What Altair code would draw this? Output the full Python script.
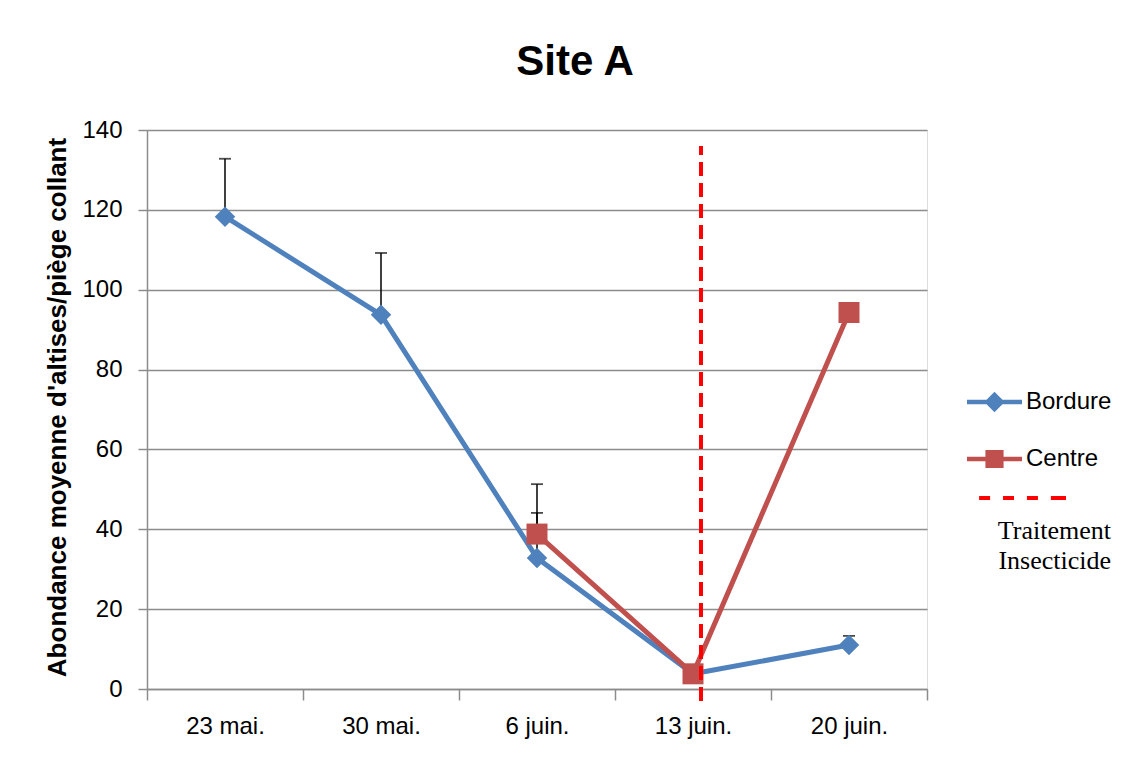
import altair as alt
import pandas as pd

# ---- data ----
dates = ["23 mai.", "30 mai.", "6 juin.", "13 juin.", "20 juin."]
bordure = [118.3, 93.7, 32.8, 3.8, 11.0]
bordure_upper = [132.8, 109.2, 44.1, None, 13.3]
centre = [None, None, 38.8, 3.8, 94.3]
centre_upper = [None, None, 51.3, None, None]
y_ticks = [0, 20, 40, 60, 80, 100, 120, 140]
treatment_date = "13 juin."
treatment_low = -3
treatment_high = 136
series_names = ["Bordure", "Centre", "Traitement"]
legend_title = ["Traitement", "Insecticide"]

BLUE = "#4F81BD"
RED = "#C0504D"
TREAT = "#FF0000"
GRID = "#8C8C8C"
FONT = "Liberation Sans"

# legend symbols (line + marker), unit = half of sqrt(size)
P_B = ("M-1,-0.08 L1,-0.08 L1,0.08 L-1,0.08 Z "
       "M0,-0.37 L0.37,0 L0,0.37 L-0.37,0 Z")
P_C = ("M-1,-0.08 L1,-0.08 L1,0.08 L-1,0.08 Z "
       "M-0.33,-0.33 L0.33,-0.33 L0.33,0.33 L-0.33,0.33 Z")
P_T = ("M-0.56,-0.73 L-0.16,-0.73 L-0.16,-0.58 L-0.56,-0.58 Z "
       "M0.31,-0.73 L0.71,-0.73 L0.71,-0.58 L0.31,-0.58 Z "
       "M1.18,-0.73 L1.58,-0.73 L1.58,-0.58 L1.18,-0.58 Z "
       "M2.05,-0.73 L2.6,-0.73 L2.6,-0.58 L2.05,-0.58 Z")

df_b = pd.DataFrame({"date": dates, "value": bordure, "upper": bordure_upper})
df_c = pd.DataFrame({"date": dates, "value": centre, "upper": centre_upper}).dropna(subset=["value"])
err = pd.concat([df_b, df_c]).dropna(subset=["upper"])
treat = pd.DataFrame({"date": [treatment_date], "lo": [treatment_low], "hi": [treatment_high]})
leg = pd.DataFrame({"series": series_names})

x_scale = alt.Scale(type="band", domain=dates, paddingInner=0, paddingOuter=0)
y_scale = alt.Scale(domain=[0, 140], nice=False)

x_axis = alt.Axis(
    title=None, grid=False, tickBand="extent", tickSize=11, tickColor=GRID, tickWidth=1.5,
    domainColor=GRID, domainWidth=1.5, labelFont=FONT, labelFontSize=24, labelColor="black",
    labelPadding=14, labelAngle=0,
)
y_axis = alt.Axis(
    title="Abondance moyenne d'altises/piège collant", values=y_ticks,
    grid=True, gridColor=GRID, gridWidth=1.5, tickSize=9, tickColor=GRID, tickWidth=1.5,
    domainColor=GRID, domainWidth=1.5, labelFont=FONT, labelFontSize=24, labelColor="black",
    labelPadding=16, titleFont=FONT, titleFontSize=26, titleFontWeight="bold", titleColor="black",
    titleX=-82, titleY=277, titleAngle=270, titleAlign="center", titleBaseline="alphabetic",
)

X = alt.X("date:N", scale=x_scale, axis=x_axis, sort=dates)
Xp = alt.X("date:N", scale=x_scale, sort=dates)

base_axes = alt.Chart(df_b).mark_line(opacity=0).encode(
    x=X, y=alt.Y("value:Q", scale=y_scale, axis=y_axis)
)

err_rules = alt.Chart(err).mark_rule(color="black", strokeWidth=1.5).encode(
    x=Xp, y=alt.Y("value:Q", scale=y_scale), y2="upper:Q"
)
err_caps = alt.Chart(err).mark_tick(color="black", thickness=1.8, size=12).encode(
    x=Xp, y=alt.Y("upper:Q", scale=y_scale)
)

line_b = alt.Chart(df_b).mark_line(color=BLUE, strokeWidth=5).encode(
    x=Xp, y=alt.Y("value:Q", scale=y_scale)
)
line_c = alt.Chart(df_c).mark_line(color=RED, strokeWidth=5).encode(
    x=Xp, y=alt.Y("value:Q", scale=y_scale)
)
pts_b = alt.Chart(df_b).mark_point(shape="diamond", filled=True, size=420, color=BLUE,
                                   opacity=1, strokeWidth=0).encode(
    x=Xp, y=alt.Y("value:Q", scale=y_scale)
)
pts_c = alt.Chart(df_c).mark_point(shape="square", filled=True, size=441, color=RED,
                                   opacity=1, strokeWidth=0).encode(
    x=Xp, y=alt.Y("value:Q", scale=y_scale)
)

treat_rule = alt.Chart(treat).mark_rule(color=TREAT, strokeWidth=4, strokeDash=[14, 7],
                                        xOffset=8).encode(
    x=Xp, y=alt.Y("lo:Q", scale=y_scale), y2="hi:Q"
)

legend_def = alt.Legend(
    orient="none", legendX=820, legendY=244.5,
    title=legend_title, titleOrient="bottom", titleAnchor="end", titleAlign="right",
    titleFont="Liberation Serif", titleFontSize=26, titleFontWeight="normal",
    titleLineHeight=30, titlePadding=-11, titleColor="black", titleLimit=400,
    labelFont=FONT, labelFontSize=24, labelColor="black", labelOffset=4,
    labelExpr="datum.label == 'Traitement' ? '' : datum.label",
    symbolOpacity=1, symbolStrokeWidth=0, symbolSize=3025, rowPadding=17,
)
legend_layer = alt.Chart(leg).mark_point(filled=True, opacity=0, size=3025, strokeWidth=0).encode(
    shape=alt.Shape("series:N", scale=alt.Scale(domain=series_names, range=[P_B, P_C, P_T]),
                    legend=legend_def),
    color=alt.Color("series:N", scale=alt.Scale(domain=series_names, range=[BLUE, RED, TREAT]),
                    legend=legend_def),
)

chart = alt.layer(
    base_axes, err_rules, err_caps, line_b, line_c, pts_b, pts_c, treat_rule, legend_layer
).properties(
    width=780, height=559,
    title=alt.TitleParams("Site A", font=FONT, fontSize=42, fontWeight="bold", color="black",
                          anchor="middle", dx=38, dy=52, offset=53, baseline="alphabetic"),
    autosize=alt.AutoSizeParams(type="none"),
    padding={"left": 139, "top": 122, "right": 197, "bottom": 65},
).configure_view(stroke=None).configure(background="white")

chart.save("out.html", embed_options={"renderer": "svg", "actions": False})
